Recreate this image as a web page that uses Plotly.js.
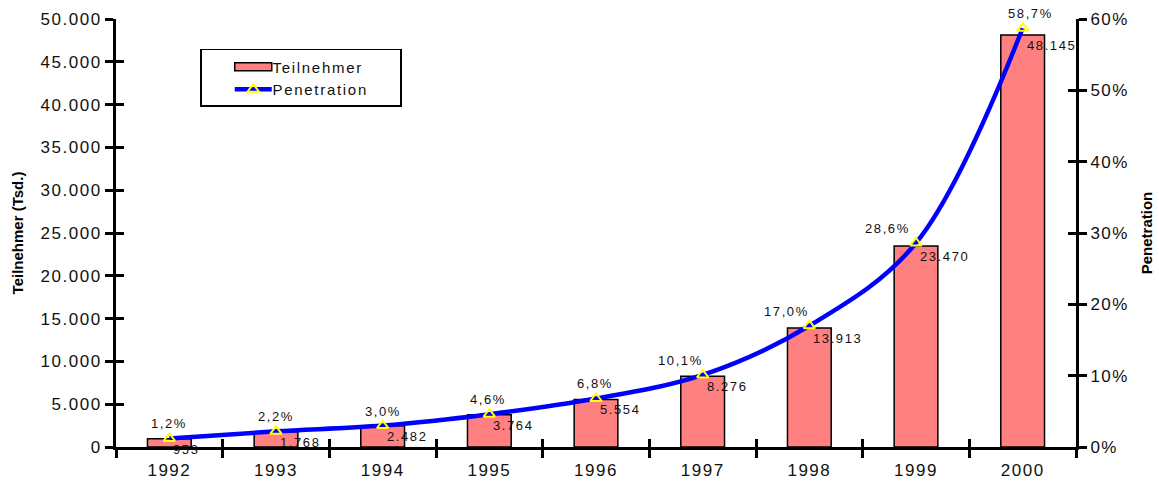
<!DOCTYPE html>
<html><head><meta charset="utf-8">
<script src="https://cdn.plot.ly/plotly-3.0.1.min.js"></script>
<style>
html,body{margin:0;padding:0;background:#fff}#c{width:1159px;height:482px}
.xtick text,.ytick text,.y2tick text{letter-spacing:1.5px}
.annotation-text{letter-spacing:1.6px}
.legendtext{letter-spacing:1.7px}
</style>
</head><body><div id="c"></div>
<script>
const years = ['1992','1993','1994','1995','1996','1997','1998','1999','2000'];
const teilnehmer = [953,1768,2482,3764,5554,8276,13913,23470,48145];
const penetration = [1.2,2.2,3.0,4.6,6.8,10.1,17.0,28.6,58.7];
const leftTicks = [0,5000,10000,15000,20000,25000,30000,35000,40000,45000,50000];
const rightTicks = [0,10,20,30,40,50,60];

const F = 'Liberation Sans, Arial, sans-serif';
const fmtInt = v => String(v).replace(/\B(?=(\d{3})+(?!\d))/g, '.');
const fmtPct = v => v.toFixed(1).replace('.', ',') + '%';

// label placement (style only)
const pctAnchor = ['center','center','center','center','center','right','right','right','center'];
const pctShift  = [0,0,0,-1,-1,2,2,-4,8];

const traces = [
  {type:'bar', name:'Teilnehmer', x:years, y:teilnehmer, width:0.41,
   marker:{color:'#FF8080', line:{color:'#000', width:1.5}}, yaxis:'y', xaxis:'x'},
  {type:'scatter', mode:'lines+markers', name:'Penetration', x:years, y:penetration,
   yaxis:'y2', xaxis:'x', line:{color:'#0000FF', width:4.5, shape:'spline', smoothing:1},
   marker:{symbol:'triangle-up-open', size:10, color:'#FFFF00', line:{width:2, color:'#FFFF00'}},
   cliponaxis:false}
];
const annotations = [];
years.forEach((yr, i) => {
  // x given as the category's serial index on the category axis
  annotations.push({x:i, y:teilnehmer[i], xref:'x', yref:'y', text:fmtInt(teilnehmer[i]),
    showarrow:false, xanchor:'left', yanchor:'top', xshift:2, yshift:-1,
    font:{family:F, size:13, color:'#111'}});
  annotations.push({x:i, y:penetration[i], xref:'x', yref:'y2', text:fmtPct(penetration[i]),
    showarrow:false, xanchor:pctAnchor[i], yanchor:'bottom', xshift:pctShift[i], yshift:5,
    font:{family:F, size:13, color:'#111'}});
});

const axisBase = {showgrid:false, zeroline:false, showline:true, linecolor:'#000', linewidth:3,
  tickcolor:'#000', tickwidth:3, ticklen:8, tickfont:{family:F,size:17,color:'#111'}};
const layout = {
  width:1159, height:482, margin:{l:116, r:83, t:19, b:35},
  paper_bgcolor:'#fff', plot_bgcolor:'#fff', separators:',.',
  showlegend:true, annotations:annotations,
  legend:{x:0.0875, y:0.93, xanchor:'left', yanchor:'top', bgcolor:'#fff',
    bordercolor:'#000', borderwidth:1.5, font:{family:F,size:15,color:'#111'},
    tracegroupgap:0, itemwidth:61},
  xaxis:Object.assign({}, axisBase, {type:'category', categoryarray:years, range:[-0.5, years.length - 0.5],
    tickson:'boundaries', ticks:'outside', ticklabelstandoff:6}),
  xaxis2:{overlaying:'x', type:'category', showline:false, showgrid:false, zeroline:false,
    tickson:'boundaries', ticks:'inside', ticklen:8, tickwidth:3, tickcolor:'#000',
    showticklabels:false, side:'bottom', matches:'x'},
  yaxis:Object.assign({}, axisBase, {range:[0,50000], tickvals:leftTicks,
    ticktext:leftTicks.map(fmtInt), ticks:'outside',
    title:{text:'Teilnehmer (Tsd.)', font:{family:F,size:15,color:'#000',weight:'bold'}, standoff:14}}),
  yaxis2:Object.assign({}, axisBase, {range:[0,60], tickvals:rightTicks,
    ticktext:rightTicks.map(v => v + '%'), overlaying:'y', side:'right', ticks:'outside',
    title:{text:'Penetration', font:{family:F,size:15,color:'#000',weight:'bold'}, standoff:14}}),
  yaxis3:{overlaying:'y', range:[0,50000], tickvals:leftTicks, ticks:'inside', ticklen:8,
    tickwidth:3, tickcolor:'#000', showticklabels:false, showgrid:false, zeroline:false, showline:false},
  yaxis4:{overlaying:'y', side:'right', range:[0,60], tickvals:rightTicks, ticks:'inside', ticklen:8,
    tickwidth:3, tickcolor:'#000', showticklabels:false, showgrid:false, zeroline:false, showline:false}
};
traces.push({type:'scatter', x:[years[0]], y:[0], xaxis:'x2', yaxis:'y3', mode:'markers',
  marker:{opacity:0}, showlegend:false, hoverinfo:'skip'});
traces.push({type:'scatter', x:[years[0]], y:[0], xaxis:'x', yaxis:'y4', mode:'markers',
  marker:{opacity:0}, showlegend:false, hoverinfo:'skip'});

Plotly.newPlot('c', traces, layout, {staticPlot:true}).then(() => {
  // legend symbol tweaks: wide bar swatch and longer line like the original
  const bg = document.querySelector('.legend rect.bg');
  if (!bg) return;
  const bl = bg.getBoundingClientRect().left;
  const symL = bl + 34, symW = 37, symC = symL + symW / 2;
  bg.setAttribute('width', 200);
  const bar = document.querySelector('.legend path.legendbar') ||
              document.querySelector('.legend .legendpoints path');
  if (bar) {
    const r = bar.getBoundingClientRect();
    const off = symC - (r.left + r.width / 2);
    bar.setAttribute('d', `M${off + symW/2},4H${off - symW/2}V-4H${off + symW/2}Z`);
  }
  const ln = document.querySelector('.legend path.js-line');
  if (ln) {
    const r = ln.getBoundingClientRect();
    const d = ln.getAttribute('d');
    const m = d.match(/M([-\d.]+),([-\d.]+)/);
    const x0 = parseFloat(m[1]) + (symL - r.left);
    ln.setAttribute('d', `M${x0},0h${symW}`);
  }
  const pts = document.querySelectorAll('.legend path.scatterpts');
  pts.forEach(p => {
    const r = p.getBoundingClientRect();
    const dx = symC - (r.left + r.width / 2);
    const t = p.getAttribute('transform') || '';
    p.setAttribute('transform', t + ` translate(${dx},0)`);
  });
});
</script></body></html>
